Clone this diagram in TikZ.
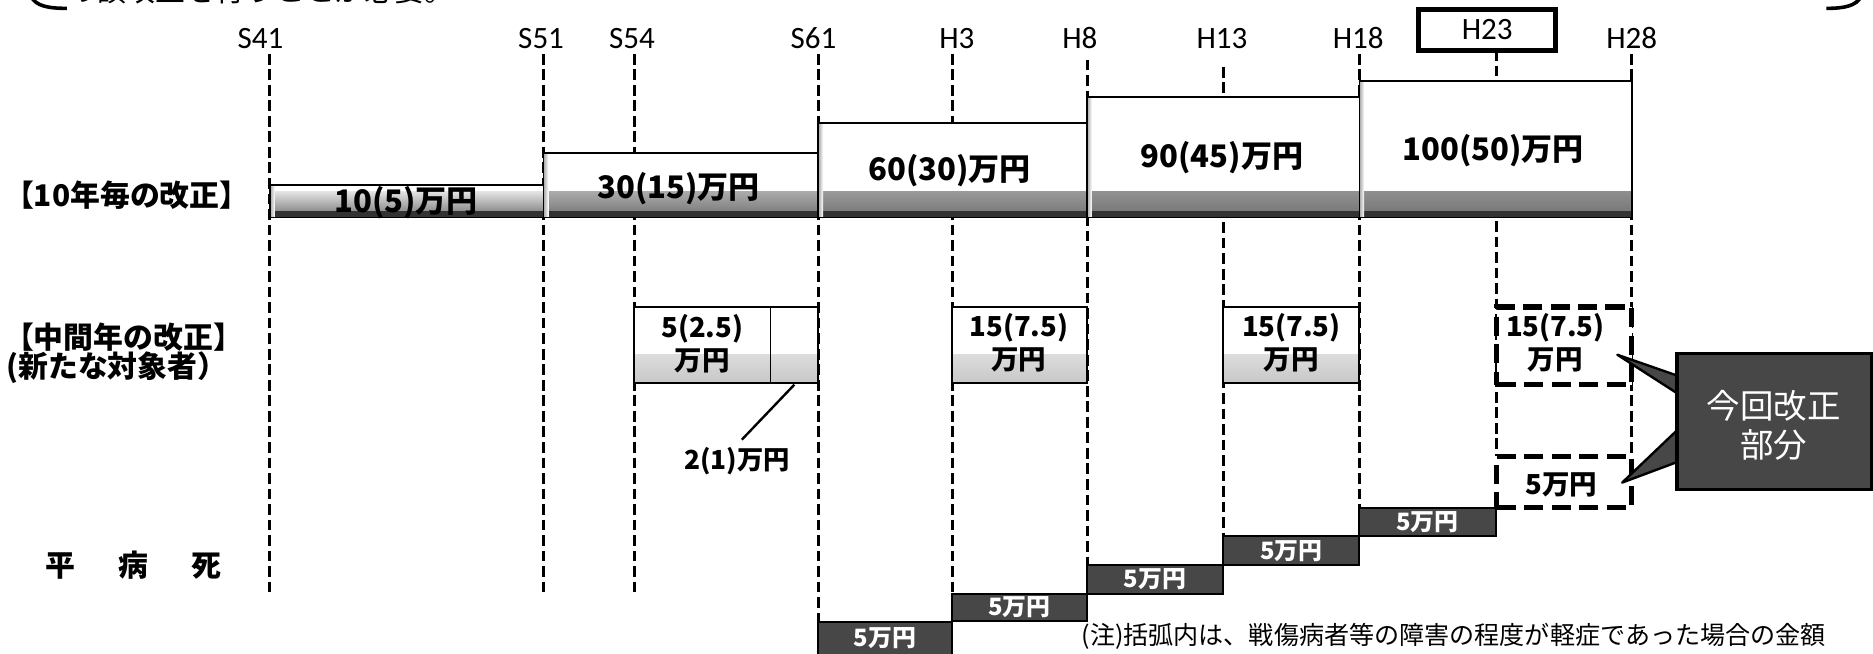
\documentclass[tikz,border=0pt]{standalone}
\usepackage{fontspec}
\setmainfont{Noto Sans CJK JP}
\newfontfamily\yearfont{Carlito}
\usetikzlibrary{fit,calc}
\begin{document}
\begin{tikzpicture}[x=0.5pt,y=-0.5pt,
  vline/.style={line width=1.25pt, dash pattern=on 4.5pt off 2pt},
  yearlbl/.style={font=\yearfont\fontsize{13}{15}\selectfont, inner sep=0},
  tenbox/.style={draw=black, line width=0.7pt, fill=white, inner sep=0,
     path picture={
       \shade[top color=white, bottom color=black!55]
         ([yshift=11pt]path picture bounding box.south west) rectangle (path picture bounding box.south east);
       \fill[black!80] (path picture bounding box.south west) rectangle ([yshift=2.5pt]path picture bounding box.south east);
       \shade[left color=black!35, right color=white]
         (path picture bounding box.south west) rectangle ([xshift=2pt]path picture bounding box.north west);}},
  tenlbl/.style={font=\bfseries\fontsize{13}{15}\selectfont, inner sep=0},
  midbox/.style={draw=black, line width=0.8pt, fill=white, inner sep=0,
     path picture={
       \shade[top color=white, bottom color=black!22]
         ([yshift=12pt]path picture bounding box.south west) rectangle (path picture bounding box.south east);}},
  midlbl/.style={font=\bfseries\fontsize{11.5}{14}\selectfont, align=center, inner sep=0},
  newbox/.style={draw=black, line width=2.2pt, dash pattern=on 8pt off 3.5pt, fill=white, inner sep=0},
  darkbox/.style={draw=black, line width=0.8pt, fill=black!72, inner sep=0},
  darklbl/.style={inner sep=0, text=white, font=\bfseries\fontsize{10}{12}\selectfont},
  sidelbl/.style={font=\bfseries\fontsize{12.5}{14}\selectfont, inner sep=0, anchor=west},
  callout/.style={draw=black, line width=1.4pt, fill=black!72, inner sep=0},
]
\useasboundingbox (0,0) rectangle (1568,546.7);
\clip (0,0) rectangle (1568,546.7);

% partial heading cut at the top
\node[anchor=base west, inner sep=0, font=\fontsize{12.5}{14}\selectfont] (head) at (55,1) {の額改正を行うことが必要。};
\draw[line width=1.5pt] (26,-3) .. controls (30,5) and (40,7) .. (56,7);
\draw[line width=1.5pt] (1558,-3) .. controls (1554,5) and (1544,7) .. (1529,7);

% year labels
\foreach \n/\x in {S41/218, S51/453, S54/529, S61/681, H3/801, H8/904, H13/1023, H18/1137, H28/1366}
  \node[yearlbl] (y\n) at (\x,32) {\n};
\node[draw=black, line width=2pt, minimum width=57.5pt, minimum height=17pt, inner sep=0,
      font=\yearfont\fontsize{13}{15}\selectfont] (yH23) at (1245,25) {H23};

% vertical dashed lines
\foreach \n/\x/\t/\b in {S41/226/45/497, S51/455/45/497, S54/531/45/497, S61/685/45/520,
    H3/797/45/497, H8/910/50/473, H13/1024/56/449, H18/1138/45/425, H23/1253/42/382, H28/1366/45/382}{
  \coordinate (t\n) at (\x,\t);
  \coordinate (b\n) at (\x,\b);
  \draw[vline] (t\n) -- (b\n);
}

% left labels
\node[sidelbl] (lten) at (3,163) {【10年毎の改正】};
\node[sidelbl] (lmid) at (3,282) {【中間年の改正】};
\node[sidelbl] (lnew) at (5,308) {(新たな対象者）};
\node[sidelbl] (lhei) at (38,473) {平\hspace{18pt}病\hspace{18pt}死};

% ten-year boxes
\node[tenbox, fit={(226,155) (455,182)}] (t1) {};
\node[tenbox, fit={(455,128) (685,182)}] (t2) {};
\node[tenbox, fit={(685,103) (910,182)}] (t3) {};
\node[tenbox, fit={(910,81) (1138,182)}] (t4) {};
\node[tenbox, fit={(1138,68) (1366,182)}] (t5) {};
\node[tenlbl] (tl1) at (340,170) {10(5)万円};
\node[tenlbl] (tl2) at (568,158) {30(15)万円};
\node[tenlbl] (tl3) at (795,143) {60(30)万円};
\node[tenlbl] (tl4) at (1023,132) {90(45)万円};
\node[tenlbl] (tl5) at (1250,126) {100(50)万円};

% middle-year boxes
\node[midbox, fit={(531,257) (685,321)}] (m1) {};
\coordinate (m1d) at (645,257);
\draw[line width=0.8pt] (m1d) -- (m1d |- m1.south);
\node[midlbl] (ml1) at (588,288) {5(2.5)\\万円};
\coordinate (m1p) at (665,322);
\node[font=\bfseries\fontsize{11}{13}\selectfont, inner sep=0] (lbl21) at (617,386) {2(1)万円};
\draw[line width=1pt] (m1p) -- ($(lbl21.north)+(4,-6)$);

\node[midbox, fit={(797,257) (910,321)}] (m2) {};
\node[midlbl] (ml2) at (853,287) {15(7.5)\\万円};
\node[midbox, fit={(1024,257) (1138,321)}] (m3) {};
\node[midlbl] (ml3) at (1081,287) {15(7.5)\\万円};

% new (this revision) boxes
\node[newbox, fit={(1253,257) (1366,322)}] (n1) {};
\node[midlbl] (nl1) at (1302,287) {15(7.5)\\万円};
\node[newbox, fit={(1253,382) (1366,425)}] (n2) {};
\node[midlbl] (nl2) at (1307,406) {5万円};

% dark staircase boxes
\node[darkbox, fit={(685,521) (797,549)}] (d1) {};
\node[darkbox, fit={(797,497) (910,520)}] (d2) {};
\node[darkbox, fit={(910,473) (1024,497)}] (d3) {};
\node[darkbox, fit={(1024,449) (1138,473)}] (d4) {};
\node[darkbox, fit={(1138,425) (1252,449)}] (d5) {};
\node[darklbl] (dl1) at (741,534) {5万円};
\node[darklbl] (dl2) at (d2.center) {5万円};
\node[darklbl] (dl3) at (d3.center) {5万円};
\node[darklbl] (dl4) at (d4.center) {5万円};
\node[darklbl] (dl5) at (d5.center) {5万円};

% callout
\coordinate (ctip1) at (1354,297);
\coordinate (ctip2) at (1358,404);
\node[callout, fit={(1404,296) (1567,410)}] (call) {};
\fill[black!72, draw=black, line width=1pt, line join=round]
  (ctip1) -- ($(call.north west)+(2,20)$) -- ($(call.north west)+(2,35)$) -- cycle;
\fill[black!72, draw=black, line width=1pt, line join=round]
  (ctip2) -- ($(call.north west)+(2,65)$) -- ($(call.north west)+(2,92)$) -- cycle;
\node[callout, fit={(1404,296) (1567,410)}] (call2) {};
\node[inner sep=0, text=white, align=center, font=\fontsize{14}{16}\selectfont] (calltxt) at (1485,356) {今回改正\\部分};

% note
\node[anchor=west, inner sep=0, font=\fontsize{10.5}{12}\selectfont] (note) at (905,533)
  {(注)括弧内は、戦傷病者等の障害の程度が軽症であった場合の金額};
\end{tikzpicture}
\end{document}
